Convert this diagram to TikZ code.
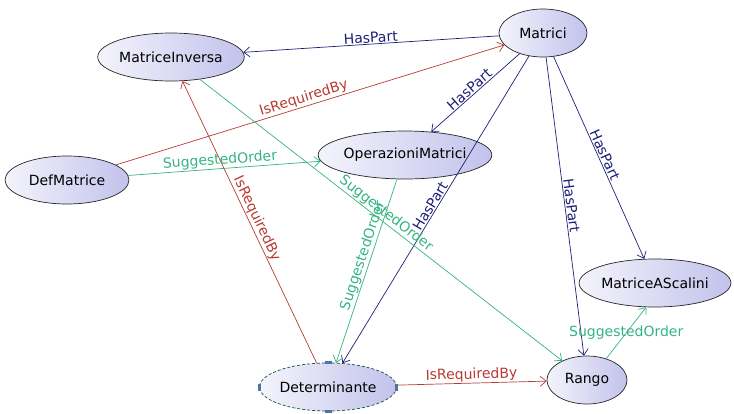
\documentclass[tikz,border=0pt]{standalone}
\usepackage{fontspec}
\setmainfont{DejaVu Sans}
\usetikzlibrary{shapes.geometric,arrows.meta}

\definecolor{fillL}{HTML}{F4F4FC}
\definecolor{fillR}{HTML}{C2C2EC}
\definecolor{partcol}{HTML}{1E1E78}
\definecolor{reqcol}{HTML}{B83A32}
\definecolor{ordcol}{HTML}{34B482}
\definecolor{handlecol}{HTML}{4B74A8}

\begin{document}
\begin{tikzpicture}[x=1pt,y=-1pt,
  concept/.style={ellipse, draw=black!85, line width=0.7pt,
    left color=fillL, right color=fillR, inner sep=0pt,
    minimum height=48pt, font=\fontsize{14}{16}\selectfont},
  rel/.style={line width=0.7pt, -{Straight Barb[length=6pt,width=10pt]}},
  haspart/.style={rel, draw=partcol},
  required/.style={rel, draw=reqcol},
  ordered/.style={rel, draw=ordcol},
  lbl/.style={sloped, above, inner sep=1pt, font=\fontsize{14}{16}\selectfont},
  partlbl/.style={lbl, text=partcol},
  reqlbl/.style={lbl, text=reqcol},
  ordlbl/.style={lbl, text=ordcol},
  handle/.style={fill=handlecol, inner sep=0pt, draw=none}
]
\useasboundingbox (0,0) rectangle (734,413);

% concepts
\node[concept, minimum width=122pt] (inv) at (171,57) {MatriceInversa};
\node[concept, minimum width=88pt]  (mat) at (543,33) {Matrici};
\node[concept, minimum width=124pt] (def) at (67,180) {DefMatrice};
\node[concept, minimum width=170pt] (ops) at (405,155) {OperazioniMatrici};
\node[concept, minimum width=130pt, draw=ordcol!45!black, densely dashed] (det) at (328,387) {Determinante};
\node[concept, minimum width=80pt]  (rng) at (587,380) {Rango};
\node[concept, minimum width=142pt] (sca) at (655,283) {MatriceAScalini};

% selection handles of the active concept
\node[handle, minimum width=7pt, minimum height=3pt] (hN) at (det.north) {};
\node[handle, minimum width=7pt, minimum height=3pt] (hS) at (det.south) {};
\node[handle, minimum width=3pt, minimum height=7pt] (hW) at (det.west) {};
\node[handle, minimum width=3pt, minimum height=7pt] (hE) at (det.east) {};

% HasPart relations
\draw[haspart] (mat) -- node[partlbl] {HasPart} (inv);
\draw[haspart] (mat) -- node[partlbl, pos=0.52] {HasPart} (ops);
\draw[haspart] (mat) -- node[partlbl] {HasPart} (det);
\draw[haspart] (mat) -- node[partlbl] {HasPart} (rng);
\draw[haspart] (mat) -- node[partlbl] {HasPart} (sca);

% IsRequiredBy relations
\draw[required] (def) -- node[reqlbl, pos=0.49] {IsRequiredBy} (mat);
\draw[required] (det) -- node[reqlbl] {IsRequiredBy} (inv);
\draw[required] (det) -- node[reqlbl] {IsRequiredBy} (rng);

% SuggestedOrder relations
\draw[ordered] (def) -- node[ordlbl, pos=0.48] {SuggestedOrder} (ops);
\draw[ordered] (ops) -- node[ordlbl, pos=0.43] {SuggestedOrder} (det);
\draw[ordered] (inv) -- node[ordlbl] {SuggestedOrder} (rng);
\draw[ordered] (rng.48) -- node[inner sep=1pt, text=ordcol, font=\fontsize{14}{16}\selectfont] {SuggestedOrder} (sca.250);
\end{tikzpicture}
\end{document}
